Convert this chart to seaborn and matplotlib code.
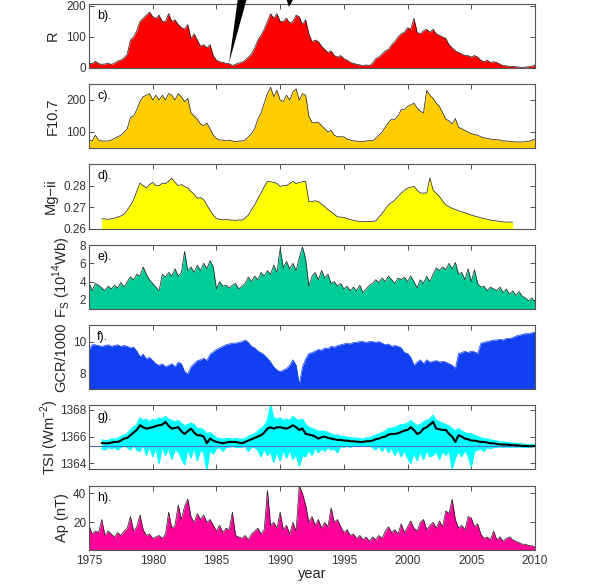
import numpy as np
import pandas as pd
import matplotlib
matplotlib.use("Agg")
import matplotlib.pyplot as plt
from matplotlib.patches import Polygon
import seaborn as sns

nan = np.nan
years = 1975 + 0.25 * np.arange(141)

sunspot_R = [16, 14, 22, 14, 12, 13, 16, 11, 16, 22, 26, 32, 45, 90, 100, 120,
             150, 160, 170, 180, 165, 160, 170, 150, 150, 175, 150, 155, 140, 130, 125, 140,
             95, 110, 90, 70, 75, 65, 75, 40, 25, 20, 18, 15, 14, 8, 12, 16,
             18, 25, 35, 45, 65, 90, 105, 125, 150, 175, 160, 175, 150, 150, 160, 145,
             150, 170, 165, 140, 155, 110, 85, 90, 85, 70, 60, 50, 55, 40, 35, 40,
             30, 25, 18, 15, 12, 10, 8, 10, 8, 15, 30, 35, 45, 55, 60, 75,
             85, 100, 110, 115, 130, 125, 160, 115, 110, 120, 125, 115, 125, 110, 105, 100,
             95, 75, 65, 55, 50, 45, 40, 40, 35, 40, 35, 25, 20, 25, 18, 20,
             18, 12, 8, 7, 5, 5, 4, 3, 2, 3, 4, 6, 10]

f107 = [75, 72, 90, 75, 72, 72, 72, 75, 80, 85, 90, 100, 110, 145, 150, 170,
        195, 210, 215, 220, 200, 215, 200, 215, 200, 220, 215, 200, 220, 210, 195, 205,
        160, 150, 140, 125, 120, 128, 110, 90, 80, 75, 75, 72, 75, 72, 70, 72,
        72, 75, 85, 95, 110, 140, 160, 190, 220, 240, 210, 230, 200, 195, 215, 200,
        225, 235, 200, 220, 215, 150, 130, 130, 130, 120, 110, 100, 105, 90, 85, 85,
        85, 78, 75, 72, 72, 70, 70, 72, 74, 72, 80, 90, 100, 115, 130, 140,
        140, 150, 170, 170, 180, 185, 190, 175, 165, 160, 230, 215, 205, 190, 180, 160,
        140, 135, 125, 142, 115, 110, 105, 100, 95, 92, 90, 85, 82, 80, 78, 77,
        76, 75, 72, 72, 71, 70, 69, 69, 69, 70, 71, 74, 78]

mg_ii = [nan, nan, nan, nan,
         .2648, .2646, .2645, .2647, .2650, .2655, .2660, .2668, .2687, .2710, .2734, .2775,
         .2812, .2800, .2790, .2805, .2815, .2800, .2800, .2812, .2810, .2820, .2835, .2815,
         .2800, .2805, .2795, .2790, .2773, .2760, .2742, .2745, .2735, .2710, .2686, .2665,
         .2648, .2645, .2642, .2644, .2642, .2641, .2640, .2642, .2641, .2650, .2664, .2690,
         .2711, .2740, .2766, .2795, .2820, .2818, .2815, .2810, .2797, .2800, .2800, .2810,
         .2820, .2810, .2815, .2818, .2820, .2727, .2727, .2730, .2727, .2715, .2703, .2690,
         .2680, .2668, .2656, .2655, .2653, .2648, .2644, .2640, .2637, .2635, .2634, .2634,
         .2634, .2635, .2637, .2655, .2672, .2692, .2711, .2722, .2734, .2750, .2766, .2778,
         .2789, .2793, .2797, .2780, .2766, .2766, .2766, .2836, .2781, .2765, .2750, .2730,
         .2711, .2703, .2695, .2690, .2684, .2680, .2675, .2670, .2664, .2660, .2656, .2652,
         .2648, .2645, .2641, .2639, .2637, .2635, .2633, .2632, .2632, .2632,
         nan, nan, nan, nan, nan, nan, nan]

flux_Fs = [3.9, 3.0, 3.8, 3.6, 3.3, 3.0, 3.5, 3.2, 3.6, 3.3, 3.9, 3.4, 4.0, 4.5, 4.2, 4.8,
           4.6, 5.6, 4.8, 4.2, 3.8, 3.4, 3.0, 4.8, 4.5, 5.0, 4.6, 5.4, 4.6, 5.0, 7.3, 5.2,
           5.6, 5.0, 5.8, 5.2, 6.0, 5.4, 6.3, 5.6, 3.2, 4.0, 3.5, 3.6, 3.3, 3.6, 3.8, 3.2,
           3.5, 3.8, 4.5, 4.0, 4.6, 4.2, 5.0, 4.6, 5.2, 4.8, 5.8, 5.0, 7.6, 5.5, 6.2, 5.4,
           6.0, 5.2, 6.6, 7.8, 6.5, 3.5, 4.6, 5.0, 4.2, 5.2, 4.4, 4.8, 3.8, 4.0, 3.5, 3.8,
           3.2, 3.5, 3.0, 3.4, 3.0, 3.6, 2.8, 3.2, 3.6, 3.8, 4.2, 3.9, 4.4, 4.0, 4.6, 4.2,
           3.8, 4.4, 4.2, 4.5, 4.0, 4.6, 4.0, 3.3, 4.2, 3.8, 4.6, 4.0, 4.8, 5.5, 5.2, 5.6,
           5.3, 6.0, 5.4, 6.1, 4.8, 5.0, 4.2, 5.4, 4.0, 5.3, 3.8, 3.4, 3.5, 3.0, 3.4, 3.2,
           3.0, 3.4, 2.8, 3.2, 2.6, 3.0, 2.5, 2.9, 2.4, 2.2, 1.9, 2.2, 1.8]

gcr = [9.5, 9.8, 9.8, 9.75, 9.7, 9.75, 9.8, 9.7, 9.75, 9.8, 9.7, 9.75, 9.7, 9.6, 9.65, 9.4,
       9.05, 9.2, 8.9, 9.0, 8.8, 8.6, 8.5, 8.6, 8.4, 8.5, 8.6, 8.4, 8.7, 8.6, 8.1, 7.95,
       8.4, 8.6, 8.8, 8.85, 8.95, 8.8, 9.2, 9.35, 9.5, 9.6, 9.7, 9.8, 9.85, 9.9, 9.9, 9.95,
       10.0, 10.1, 9.95, 9.7, 9.6, 9.4, 9.3, 9.15, 8.95, 8.7, 8.4, 8.2, 8.1, 8.2, 8.3, 8.5,
       8.85, 8.5, 7.3, 8.4, 8.9, 9.25, 9.3, 9.4, 9.5, 9.45, 9.6, 9.55, 9.7, 9.65, 9.75, 9.8,
       9.85, 9.9, 9.85, 9.95, 9.95, 10.0, 10.0, 9.95, 10.0, 10.0, 9.95, 10.0, 9.9, 9.8, 9.85, 9.7,
       9.75, 9.7, 9.6, 9.3, 9.25, 9.0, 8.5, 8.7, 8.85, 8.6, 8.85, 8.7, 8.75, 8.8, 8.7, 8.75,
       8.7, 8.6, 8.5, 8.3, 9.25, 9.3, 9.4, 9.3, 9.4, 9.35, 9.25, 9.9, 9.95, 10.0, 10.05, 10.1,
       10.1, 10.15, 10.1, 10.2, 10.2, 10.25, 10.35, 10.4, 10.45, 10.5, 10.5, 10.55, 10.6]

tsi_smooth = [nan, nan, nan, nan,
              1365.52, 1365.5, 1365.5, 1365.55, 1365.6, 1365.6, 1365.7, 1365.85,
              1365.9, 1366.1, 1366.3, 1366.5, 1366.85, 1366.7, 1366.6, 1366.65,
              1366.7, 1366.8, 1366.85, 1366.9, 1367.1, 1366.8, 1366.6, 1366.65,
              1366.7, 1366.4, 1366.2, 1366.4, 1366.6, 1366.3, 1366.1, 1366.1,
              1366.0, 1365.5, 1365.85, 1365.7, 1365.6, 1365.55, 1365.5, 1365.55,
              1365.6, 1365.6, 1365.6, 1365.55, 1365.5, 1365.6, 1365.7, 1365.8,
              1365.9, 1366.0, 1366.1, 1366.3, 1366.6, 1366.7, 1366.6, 1366.7,
              1366.7, 1366.65, 1366.6, 1366.7, 1366.85, 1366.7, 1366.5, 1366.6,
              1366.2, 1366.15, 1366.1, 1366.0, 1365.85, 1365.95, 1366.0, 1365.9,
              1365.85, 1365.8, 1365.75, 1365.75, 1365.7, 1365.7, 1365.65, 1365.65,
              1365.62, 1365.6, 1365.6, 1365.65, 1365.65, 1365.7, 1365.8, 1365.85,
              1365.95, 1366.0, 1366.15, 1366.2, 1366.2, 1366.25, 1366.35, 1366.45,
              1366.5, 1366.7, 1366.5, 1366.2, 1366.3, 1366.6, 1366.7, 1366.9,
              1367.1, 1366.6, 1366.55, 1366.5, 1366.5, 1366.2, 1366.0, 1365.6,
              1366.1, 1366.0, 1365.85, 1365.8, 1365.7, 1365.7, 1365.65, 1365.6,
              1365.6, 1365.55, 1365.5, 1365.5, 1365.45, 1365.42, 1365.4, 1365.4,
              1365.38, 1365.36, 1365.35, 1365.33, 1365.3, 1365.3, 1365.28, 1365.28, 1365.3]

tsi_high = [nan, nan, nan, nan,
            1365.75, 1365.7, 1365.7, 1365.8, 1365.8, 1365.85, 1366.0, 1366.1,
            1366.2, 1366.5, 1366.7, 1366.9, 1367.4, 1367.2, 1367.3, 1367.1,
            1367.3, 1367.2, 1367.4, 1367.3, 1367.5, 1367.3, 1367.2, 1367.1,
            1367.2, 1367.0, 1366.8, 1366.9, 1367.0, 1366.9, 1366.6, 1366.6,
            1366.5, 1366.2, 1366.3, 1366.1, 1365.9, 1365.85, 1365.8, 1365.85,
            1365.85, 1365.8, 1365.85, 1365.8, 1365.8, 1365.85, 1366.0, 1366.1,
            1366.2, 1366.4, 1366.6, 1366.8, 1367.2, 1368.35, 1367.4, 1367.3,
            1367.4, 1367.2, 1367.3, 1367.2, 1367.5, 1367.3, 1367.2, 1367.3,
            1366.9, 1366.7, 1366.6, 1366.5, 1366.4, 1366.4, 1366.4, 1366.3,
            1366.2, 1366.1, 1366.1, 1366.0, 1366.0, 1365.95, 1365.9, 1365.9,
            1365.85, 1365.85, 1365.8, 1365.9, 1365.9, 1366.0, 1366.1, 1366.2,
            1366.3, 1366.4, 1366.6, 1366.6, 1366.7, 1366.8, 1366.9, 1366.9,
            1367.0, 1367.2, 1367.0, 1366.8, 1366.9, 1367.1, 1367.2, 1367.3,
            1367.6, 1367.2, 1367.1, 1367.0, 1366.9, 1366.8, 1366.6, 1366.4,
            1366.6, 1366.4, 1366.3, 1366.2, 1366.2, 1366.1, 1366.0, 1365.9,
            1365.85, 1365.8, 1365.75, 1365.7, 1365.65, 1365.6, 1365.6, 1365.55,
            1365.55, 1365.5, 1365.5, 1365.45, 1365.45, 1365.4, 1365.4, 1365.4, 1365.4]

tsi_low = [nan, nan, nan, nan,
           1365.1, 1365.0, 1365.2, 1365.1, 1365.2, 1365.0, 1365.2, 1365.3,
           1365.2, 1365.0, 1365.4, 1365.0, 1364.9, 1365.4, 1364.6, 1365.3,
           1364.5, 1365.2, 1364.0, 1365.3, 1364.6, 1365.2, 1364.3, 1365.0,
           1364.9, 1364.4, 1363.9, 1365.1, 1364.4, 1365.2, 1364.2, 1365.0,
           1364.8, 1363.55, 1365.0, 1364.7, 1365.1, 1365.2, 1364.9, 1365.2,
           1365.2, 1365.3, 1365.2, 1365.2, 1365.2, 1365.3, 1364.9, 1365.2,
           1365.2, 1365.0, 1364.5, 1365.1, 1364.6, 1364.9, 1364.1, 1364.9,
           1364.2, 1365.0, 1364.4, 1365.0, 1364.3, 1364.7, 1363.8, 1364.6,
           1364.5, 1365.0, 1364.6, 1365.2, 1364.8, 1365.1, 1364.9, 1365.2,
           1365.0, 1365.1, 1364.8, 1365.3, 1365.2, 1365.3, 1365.2, 1365.3,
           1365.3, 1365.3, 1365.3, 1365.3, 1365.3, 1365.2, 1365.0, 1365.3,
           1364.9, 1365.3, 1364.8, 1365.2, 1364.6, 1365.1, 1364.5, 1365.0,
           1364.4, 1364.0, 1364.8, 1364.2, 1364.9, 1364.3, 1365.0, 1364.5,
           1364.6, 1364.9, 1364.3, 1364.9, 1364.6, 1365.0, 1363.6, 1364.4,
           1364.9, 1364.5, 1365.0, 1364.6, 1363.75, 1364.9, 1365.0, 1365.1,
           1364.9, 1365.2, 1365.1, 1365.2, 1365.2, 1365.25, 1365.2, 1365.25,
           1365.2, 1365.25, 1365.2, 1365.25, 1365.2, 1365.2, 1365.2, 1365.25, 1365.25]

tsi_ref = 1365.27

ap_index = [18, 12, 14, 13, 22, 11, 14, 12, 10, 13, 11, 14, 16, 24, 14, 17,
            25, 15, 11, 12, 9, 10, 11, 9, 12, 27, 16, 18, 32, 22, 31, 36,
            24, 20, 26, 22, 25, 20, 22, 18, 14, 18, 13, 16, 15, 27, 11, 10,
            9, 11, 8, 12, 14, 16, 12, 15, 42, 18, 20, 16, 27, 15, 18, 12,
            20, 14, 45, 40, 32, 20, 24, 18, 22, 16, 20, 17, 30, 20, 22, 17,
            13, 15, 11, 12, 9, 11, 8, 10, 7, 10, 8, 11, 9, 14, 17, 13,
            15, 12, 19, 13, 17, 21, 16, 14, 20, 22, 15, 18, 20, 16, 21, 17,
            28, 26, 36, 22, 16, 18, 15, 24, 23, 17, 19, 12, 9, 10, 8, 14,
            8, 10, 7, 9, 10, 8, 7, 6, 5, 5, 4, 4, 3]

df = pd.DataFrame({"year": years, "R": sunspot_R, "F107": f107, "Mg": mg_ii,
                   "Fs": flux_Fs, "GCR": gcr, "TSI": tsi_smooth, "TSIhi": tsi_high,
                   "TSIlo": tsi_low, "Ap": ap_index})

sns.set_style("ticks")
plt.rcParams.update({
    "font.family": ["Liberation Sans", "DejaVu Sans"],
    "xtick.direction": "in", "ytick.direction": "in",
    "xtick.top": True, "ytick.right": True,
    "xtick.major.size": 3.5, "ytick.major.size": 3.5,
    "xtick.major.width": 0.6, "ytick.major.width": 0.6,
    "xtick.labelsize": 8.5, "ytick.labelsize": 8.5,
    "xtick.color": "#333333", "ytick.color": "#333333",
    "axes.edgecolor": "#555555", "axes.linewidth": 0.8,
})

W, H = 596, 586
fig = plt.figure(figsize=(W / 100, H / 100), dpi=100)

panels = [  # (top px, bottom px)
    (4, 68), (84, 148), (164, 229), (245, 309), (325, 389), (405, 469), (486, 550)]
left_px, right_px = 89, 535

specs = [
    dict(col="R", color="#ff0000", ylim=(0, 206), yticks=[0, 100, 200],
         label="R", lx=-0.082, tag="b)."),
    dict(col="F107", color="#ffcc00", ylim=(50, 250), yticks=[100, 200],
         label="F10.7", lx=-0.082, tag="c)."),
    dict(col="Mg", color="#ffff00", ylim=(0.26, 0.29), yticks=[0.26, 0.27, 0.28],
         label="Mg\u2212ii", lx=-0.085, tag="d)."),
    dict(col="Fs", color="#00cc99", ylim=(1, 8), yticks=[2, 4, 6, 8],
         label="F$_\\mathregular{S}$ (10$^\\mathregular{14}$Wb)", lx=-0.06, tag="e)."),
    dict(col="GCR", color="#1040f0", ylim=(7, 11.05), yticks=[8, 10],
         label="GCR/1000", lx=-0.063, tag="f)."),
    dict(col="TSI", color="black", ylim=(1363.57, 1368.37), yticks=[1364, 1366, 1368],
         label="TSI (Wm$^\\mathregular{-2}$)", lx=-0.087, tag="g)."),
    dict(col="Ap", color="#ff0099", ylim=(1, 45), yticks=[20, 40],
         label="Ap (nT)", lx=-0.06, tag="h)."),
]

axes = []
for (top, bot), sp in zip(panels, specs):
    ax = fig.add_axes([left_px / W, 1 - bot / H, (right_px - left_px) / W, (bot - top) / H])
    axes.append(ax)
    col = sp["col"]
    if col == "TSI":
        ax.fill_between(df["year"], df["TSIlo"], df["TSIhi"], color="#00ffff", lw=0)
        sns.lineplot(data=df, x="year", y="TSIlo", ax=ax, color="#00ffff", lw=1.0)
        sns.lineplot(data=df, x="year", y="TSIhi", ax=ax, color="#00ffff", lw=1.0)
        ax.axhline(tsi_ref, color="#4a6fd0", lw=0.8)
        sns.lineplot(data=df, x="year", y="TSI", ax=ax, color="black", lw=1.5)
    else:
        base = sp["ylim"][0]
        sub = df[["year", col]].dropna()
        ax.fill_between(sub["year"], base, sub[col], color=sp["color"], lw=0)
        edge = "#1a1a1a" if col != "GCR" else sp["color"]
        sns.lineplot(data=sub, x="year", y=col, ax=ax, color=edge, lw=0.5)
    ax.set_xlim(1975, 2010)
    ax.set_ylim(*sp["ylim"])
    ax.set_yticks(sp["yticks"])
    ax.set_xticks(np.arange(1975, 2011, 5))
    ax.set_ylabel(sp["label"], fontsize=10.5, va="center")
    ax.yaxis.set_label_coords(sp["lx"], 0.5)
    ax.text(0.018, 0.82, sp["tag"], transform=ax.transAxes, fontsize=9,
            ha="left", va="center", color="black")
    ax.set_xlabel("")
    ax.tick_params(axis="y", pad=2)

for ax in axes[:-1]:
    ax.tick_params(axis="x", labelbottom=False)
axes[-1].set_xlabel("year", fontsize=10.5, labelpad=0)

# dark wedge annotation remnant at top of figure
def fp(x, y):
    return (x / W, 1 - y / H)

fig.add_artist(Polygon([fp(238, -2), fp(247, -2), fp(229, 63)], closed=True,
                       transform=fig.transFigure, color="black", lw=0))
fig.add_artist(Polygon([fp(286, -2), fp(294, -2), fp(289, 7)], closed=True,
                       transform=fig.transFigure, color="black", lw=0))

fig.savefig("out.png", dpi=100, facecolor="white")
